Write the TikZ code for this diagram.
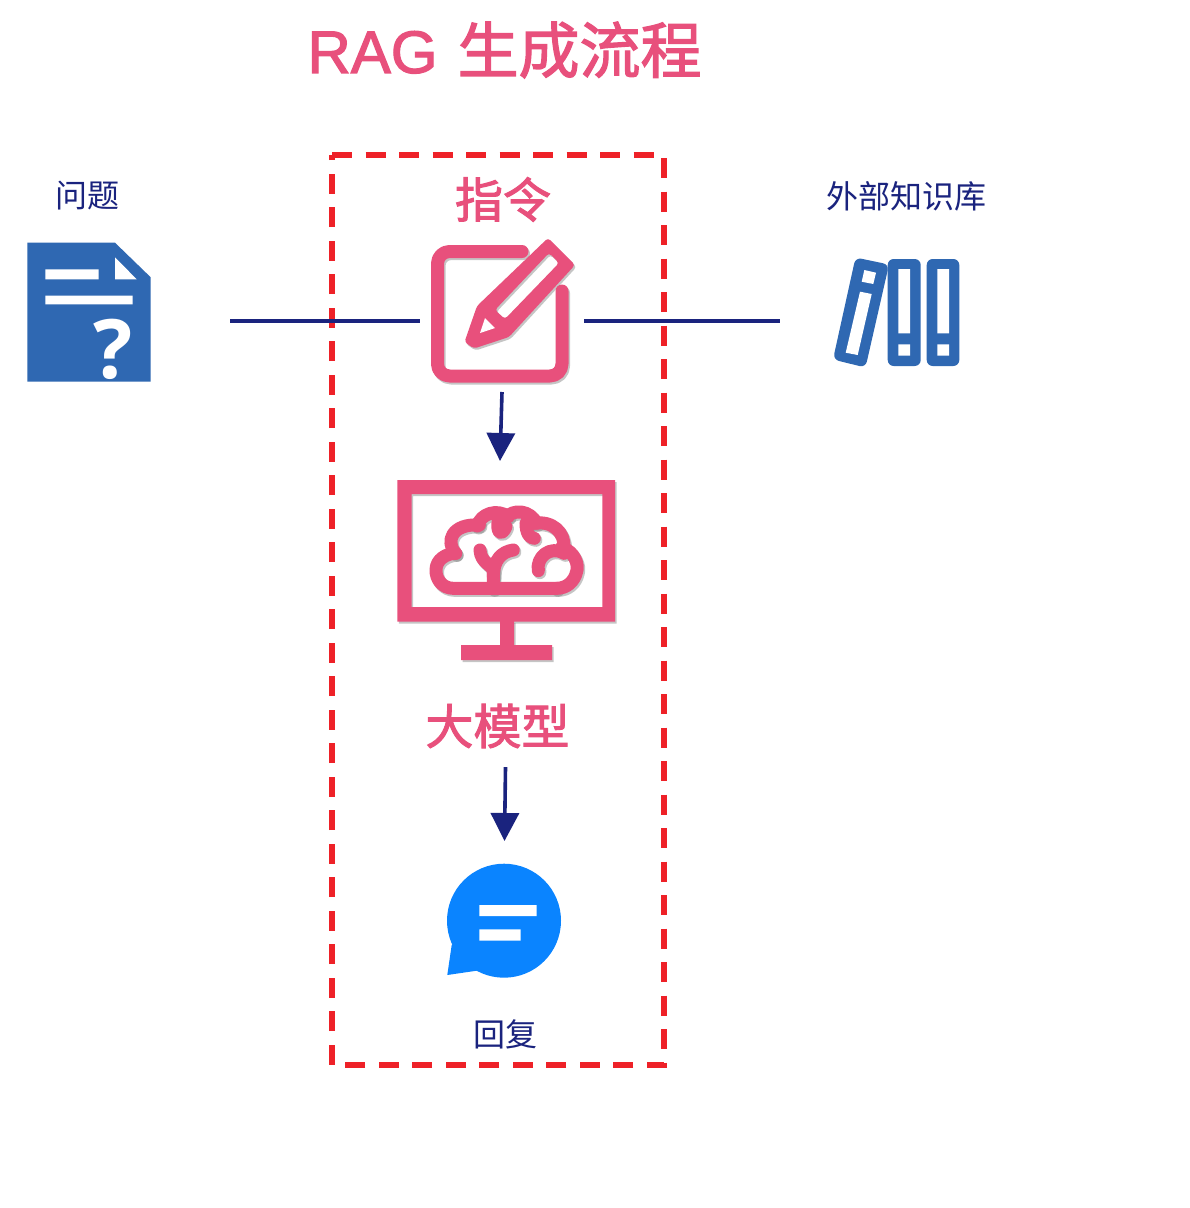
\documentclass[tikz,border=0pt]{standalone}
\usepackage{fontspec}
\setmainfont{Liberation Sans}
\newfontfamily\cjk{Noto Sans CJK SC}
\newfontfamily\cjkb[FakeBold=2]{Noto Sans CJK SC}
\newfontfamily\latb[FakeBold=2]{Liberation Sans}
\newfontfamily\qfont{Open Sans}
\definecolor{pinkc}{HTML}{E8507C}
\definecolor{navyc}{HTML}{1A237E}
\definecolor{bluec}{HTML}{2F68B2}
\definecolor{bubblec}{HTML}{0A84FF}
\definecolor{redc}{HTML}{EE2128}
\usetikzlibrary{arrows.meta}
\tikzset{
  anchorbox/.style={inner sep=0pt,outer sep=0pt,minimum width=#1},
  navylabel/.style={text=navyc,inner sep=0pt,font=\cjk\fontsize{32}{32}\selectfont},
  pinklabel/.style={text=pinkc,inner sep=0pt,font=\cjkb\fontsize{48}{48}\selectfont},
  plainline/.style={draw=navyc,line width=3.6pt},
  flow/.style={draw=navyc,line width=3.6pt,-{Triangle[length=28pt,width=28pt]}},
  dashbox/.style={draw=redc,line width=5.5pt,dash pattern=on 20pt off 13.5pt},
  icstroke/.style={draw=ic,line width=13pt,line cap=round,line join=round},
  icfill/.style={fill=ic,even odd rule},
}
\newcommand{\pinkicons}{%
  % note + pencil
  \draw[icstroke,rounded corners=12pt] (522,251.5) -- (437.5,251.5) -- (437.5,376) -- (562,376) -- (562,291);
  \fill[icfill,rounded corners=3pt] (464.5,342) -- (477,306) -- (548,238) -- (575,265) -- (509,337) -- (474,348.5) -- cycle
    (495,310) -- (549,253) -- (559,263) -- (505,319) -- cycle;
  \fill[white] (485,318) -- (495,328) -- (480,333) -- cycle;
  % monitor
  \fill[icfill] (397.3,480) rectangle (615,621.5) (411.7,494) rectangle (602.3,607);
  \fill[fill=ic] (500,621) rectangle (514,646) (461,645) rectangle (552,660);
  % brain
  \begin{scope}[shift={(390,470)},x=0.3333pt,y=-0.3333pt]
    \draw[icstroke] (500,355) -- (190,355) .. controls (155,355) and (137,325) .. (138,300) .. controls (138,268) and (170,250) .. (197,250);
    \draw[icstroke] (197,250) .. controls (165,215) and (185,160) .. (268,165);
    \draw[icstroke] (262,168) .. controls (272,130) and (322,115) .. (355,140);
    \draw[icstroke] (345,145) .. controls (370,115) and (420,120) .. (440,160);
    \draw[icstroke] (430,160) .. controls (490,150) and (525,190) .. (522,232);
    \draw[icstroke] (515,232) .. controls (555,245) and (567,285) .. (560,305) .. controls (553,335) and (530,355) .. (500,355);
    \draw[icstroke] (325,150) .. controls (318,190) and (335,200) .. (348,170);
    \draw[icstroke] (408,160) .. controls (408,190) and (420,205) .. (433,205);
    \draw[icstroke] (445,302) .. controls (438,262) and (480,225) .. (522,250);
    \draw[icstroke] (310,355) -- (310,305) .. controls (310,285) and (272,280) .. (270,240);
    \draw[icstroke] (310,320) .. controls (310,270) and (335,245) .. (370,240);
  \end{scope}
}
\begin{document}
\begin{tikzpicture}[x=1pt,y=-1pt]
  \useasboundingbox (0,0) rectangle (1190,1208);
  \fill[white] (0,0) rectangle (1190,1208);

  % invisible anchor boxes of the icons
  \node[anchorbox=203pt,minimum height=140pt] (doc) at (128.5,321) {};
  \node[anchorbox=164pt,minimum height=142pt] (prompt) at (502,321) {};
  \node[anchorbox=180pt,minimum height=140pt] (kb) at (870,321) {};
  \node[anchorbox=218pt,minimum height=218pt] (model) at (500,570) {};
  \node[anchorbox=120pt,minimum height=160pt] (reply) at (504.5,921) {};

  % title and labels
  \node[inner sep=0pt,text=pinkc,font=\latb\fontsize{60}{60}\selectfont] (title) at (504.5,50) {RAG\hspace{20pt}{\cjkb\fontsize{61}{61}\selectfont 生成流程}};
  \node[navylabel] (lq) at (87.5,196) {问题};
  \node[navylabel] (lk) at (906,196) {外部知识库};
  \node[pinklabel] (lp) at (503,199.5) {指令};
  \node[pinklabel,minimum height=82pt] (lm) at (497.5,726) {大模型};
  \node[navylabel] (lr) at (505,1034) {回复};

  % dashed frame
  \draw[dashbox] (332,155) -- (664,155) -- (664,1065) -- (332,1065) -- cycle;

  % connectors
  \draw[plainline] (doc.east) -- (prompt.west);
  \draw[plainline] (prompt.east) -- (kb.west);
  \draw[flow] (prompt.south) -- (model.north);
  \draw[flow] (lm.south) ++(8,0) -- (reply.north);

  % question document
  \fill[bluec] (27.3,242.7) -- (115,242.7) -- (150.7,277.3) -- (150.7,381.7) -- (27.3,381.7) -- cycle;
  \fill[white] (115,257.3) -- (136.7,279.3) -- (115,279.3) -- cycle;
  \fill[white] (45.3,269.3) rectangle (98.7,279.3) (45.3,295.7) rectangle (132.7,304.3);
  \node[inner sep=0pt,text=white,font=\qfont\bfseries\fontsize{82}{82}\selectfont] (qm) at (113,349) {?};

  % books
  \fill[bluec,rounded corners=6pt] (855.5,257.5) -- (889,264.5) -- (865.5,367.5) -- (833,359.5) -- cycle;
  \fill[white] (864.3,270) -- (876,272.7) -- (873.3,284) -- (861.7,281.7) -- cycle
    (860,291.7) -- (871.7,294) -- (857.7,355) -- (845.7,352.7) -- cycle;
  \fill[bluec,rounded corners=6pt] (887.7,259) rectangle (920.7,366) (926.7,259) rectangle (959.3,366);
  \fill[white] (898.3,269) rectangle (910,333.3) (898.3,344.3) rectangle (910,355.7)
    (937.3,269) rectangle (949,333.3) (937.3,344.3) rectangle (949,355.7);

  % pink icons with a soft shadow
  \begin{scope}[shift={(1.5,2)},opacity=0.45]
    \colorlet{ic}{gray}\pinkicons
  \end{scope}
  \colorlet{ic}{pinkc}\pinkicons

  % reply bubble
  \fill[bubblec] (504,920.7) circle[radius=57];
  \fill[bubblec] (451.7,945) -- (447.3,975) -- (476.7,970.7) -- (490,960) -- (470,930) -- cycle;
  \fill[white] (479.3,905) rectangle (536.7,916) (479.3,929.3) rectangle (520.7,940.7);
\end{tikzpicture}
\end{document}
